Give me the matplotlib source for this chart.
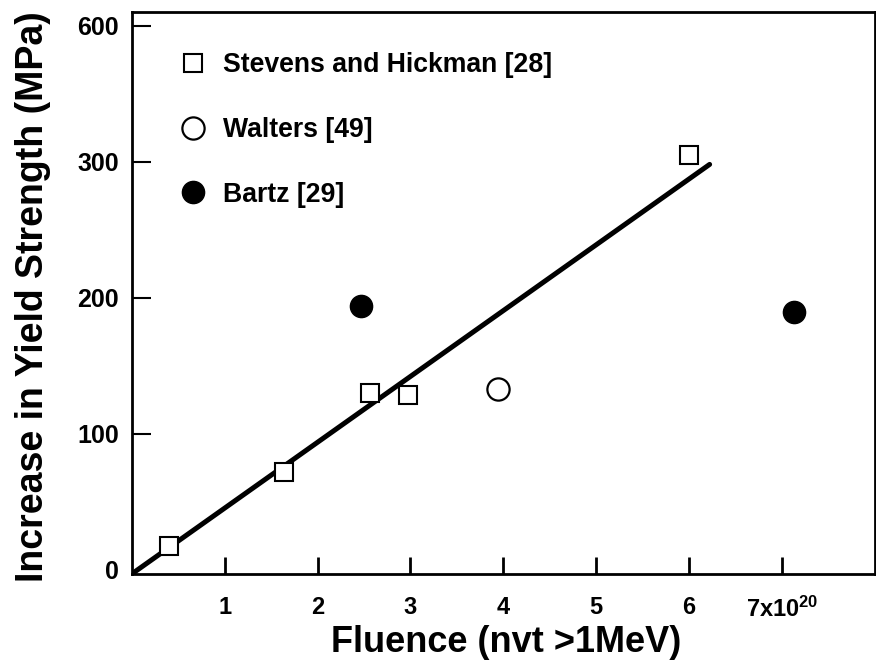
import matplotlib
matplotlib.use("Agg")
import matplotlib.pyplot as plt

# ---- data ----
stevens_x = [0.40, 1.64, 2.56, 2.97, 6.00]
stevens_y = [17.6, 72.2, 130.2, 128.3, 304.9]
walters_x = [3.94]
walters_y = [132.9]
bartz_x = [2.47, 7.13]
bartz_y = [194.2, 189.8]
fit_x = [0.0, 6.22]
fit_y = [-3.0, 298.0]

x_ticks = [1, 2, 3, 4, 5, 6, 7]
x_ticklabels = ["1", "2", "3", "4", "5", "6", "7x10$^{\\mathregular{20}}$"]
y_ticks = [0, 100, 200, 300, 400]
y_ticklabels = ["0", "100", "200", "300", "600"]

plt.rcParams["font.family"] = ["Liberation Sans", "DejaVu Sans"]
plt.rcParams["font.weight"] = "bold"
plt.rcParams["mathtext.default"] = "regular"

fig = plt.figure(figsize=(8.76, 6.65), dpi=100)
ax = fig.add_axes([131.7 / 876, 1 - 574 / 665, (875 - 131.7) / 876, (574 - 12) / 665])

ax.plot(fit_x, fit_y, color="black", lw=3.6, solid_capstyle="round", zorder=2)
ax.plot(stevens_x, stevens_y, ls="none", marker="s", ms=13, mfc="white", mec="black",
        mew=1.5, label="Stevens and Hickman [28]", zorder=3)
ax.plot(walters_x, walters_y, ls="none", marker="o", ms=16, mfc="white", mec="black",
        mew=1.6, label="Walters [49]", zorder=3)
ax.plot(bartz_x, bartz_y, ls="none", marker="o", ms=16, mfc="black", mec="black",
        mew=1.0, label="Bartz [29]", zorder=3)

ax.set_xlim(0, 8.0)
ax.set_ylim(-3, 410)
ax.set_xticks(x_ticks)
ax.set_xticklabels(x_ticklabels)
ax.set_yticks(y_ticks)
ax.set_yticklabels(y_ticklabels)

ax.tick_params(axis="x", direction="in", length=12, width=2, pad=16, labelsize=17)
ax.tick_params(axis="y", direction="in", length=14, width=1.5, pad=9, labelsize=18)
ax.yaxis.get_major_ticks()[0].tick1line.set_visible(False)
for lab in ax.get_xticklabels() + ax.get_yticklabels():
    lab.set_fontweight("bold")

for sp in ax.spines.values():
    sp.set_linewidth(2.0)

ax.set_xlabel("Fluence (nvt >1MeV)", fontsize=26, fontweight="bold")
ax.xaxis.set_label_coords(0.504, -0.090)
ax.set_ylabel("Increase in Yield Strength (MPa)", fontsize=27, fontweight="bold")
ax.yaxis.set_label_coords(-0.108, 0.494)

leg = ax.legend(loc="upper left", bbox_to_anchor=(0.065, 0.928), frameon=False,
                numpoints=1, handlelength=1.0, handletextpad=0.6,
                labelspacing=1.45, borderpad=0, borderaxespad=0,
                prop={"size": 19.2, "weight": "bold"})

fig.savefig("out.png", dpi=100, facecolor="white")
